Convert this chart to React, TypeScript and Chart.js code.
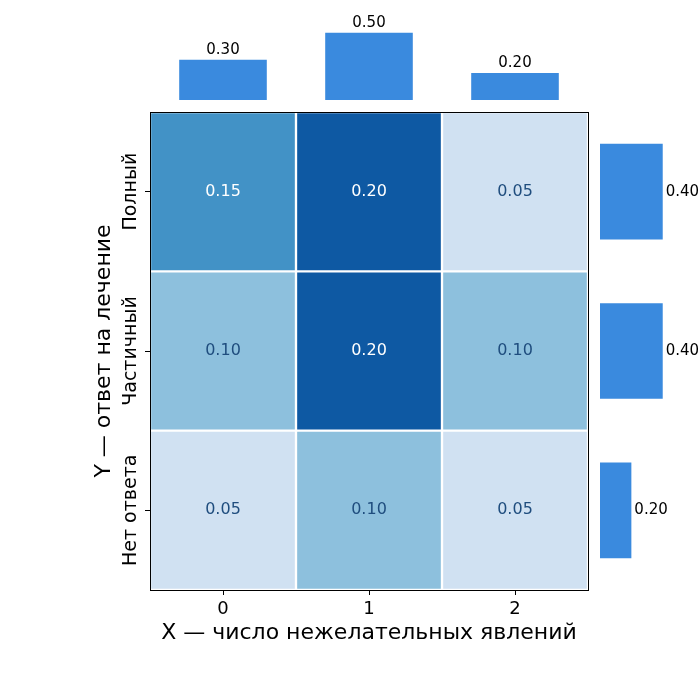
import { useEffect, useRef } from 'react';
import { Chart, registerables } from 'chart.js';
import type { Plugin } from 'chart.js';

Chart.register(...registerables);

// categories
const xLabels = ['0', '1', '2'];
const yLabels = ['Полный', 'Частичный', 'Нет ответа']; // top to bottom

// joint probabilities, rows top to bottom
const rowFull = [0.15, 0.2, 0.05];
const rowPartial = [0.1, 0.2, 0.1];
const rowNone = [0.05, 0.1, 0.05];
const jointRows = [rowFull, rowPartial, rowNone];

// marginals
const marginalX = [0.3, 0.5, 0.2];
const marginalY = [0.4, 0.4, 0.2]; // top to bottom

const FONT = 'DejaVu Sans';
const BAR_COLOR = '#3a8ade';

// Blues-like colour map for cells
const cellColor = (v: number) => {
  if (v >= 0.2) return '#0e59a3';
  if (v >= 0.15) return '#4292c6';
  if (v >= 0.1) return '#8dc0dd';
  return '#d0e1f2';
};
const textColor = (v: number) => (v >= 0.15 ? '#ffffff' : '#1f4d7e');

const heatPlugin: Plugin = {
  id: 'heatDecor',
  afterDatasetsDraw(chart) {
    const { ctx, chartArea, scales } = chart;
    ctx.save();
    // cell annotations
    chart.data.datasets.forEach((ds, di) => {
      const meta = chart.getDatasetMeta(di);
      meta.data.forEach((el, i) => {
        const v = jointRows[di][i];
        const { x, y } = el.getCenterPoint();
        ctx.fillStyle = textColor(v);
        ctx.font = `16px ${FONT}`;
        ctx.textAlign = 'center';
        ctx.textBaseline = 'middle';
        ctx.fillText(v.toFixed(2), x, y);
      });
    });
    // frame
    ctx.strokeStyle = '#000';
    ctx.lineWidth = 1;
    ctx.strokeRect(
      Math.round(chartArea.left) + 0.5,
      Math.round(chartArea.top) + 0.5,
      Math.round(chartArea.right - chartArea.left),
      Math.round(chartArea.bottom - chartArea.top)
    );
    // rotated y tick labels
    const yScale = scales.y;
    ctx.fillStyle = '#000';
    ctx.font = `19px ${FONT}`;
    yLabels.forEach((lab, i) => {
      const py = yScale.getPixelForValue(yLabels.length - 1 - i);
      ctx.save();
      ctx.translate(chartArea.left - 19, py);
      ctx.rotate(-Math.PI / 2);
      ctx.textAlign = 'center';
      ctx.textBaseline = 'middle';
      ctx.fillText(lab, 0, 0);
      ctx.restore();
    });
    ctx.restore();
  },
};

const topLabelPlugin: Plugin = {
  id: 'topLabels',
  afterDatasetsDraw(chart) {
    const { ctx } = chart;
    const meta = chart.getDatasetMeta(0);
    ctx.save();
    ctx.fillStyle = '#000';
    ctx.font = `15px ${FONT}`;
    ctx.textAlign = 'center';
    ctx.textBaseline = 'bottom';
    meta.data.forEach((el, i) => {
      ctx.fillText(marginalX[i].toFixed(2), el.x, el.y - 2);
    });
    ctx.restore();
  },
};

const rightLabelPlugin: Plugin = {
  id: 'rightLabels',
  afterDatasetsDraw(chart) {
    const { ctx } = chart;
    const meta = chart.getDatasetMeta(0);
    ctx.save();
    ctx.fillStyle = '#000';
    ctx.font = `15px ${FONT}`;
    ctx.textAlign = 'left';
    ctx.textBaseline = 'middle';
    meta.data.forEach((el, i) => {
      ctx.fillText(marginalY[i].toFixed(2), el.x + 3, el.y);
    });
    ctx.restore();
  },
};

const App = () => {
  const heatRef = useRef<HTMLCanvasElement | null>(null);
  const topRef = useRef<HTMLCanvasElement | null>(null);
  const rightRef = useRef<HTMLCanvasElement | null>(null);

  useEffect(() => {
    if (!heatRef.current || !topRef.current || !rightRef.current) return;

    const heat = new Chart(heatRef.current, {
      type: 'bar',
      data: {
        labels: xLabels,
        datasets: jointRows.map((row, r) => {
          const yv = jointRows.length - 1 - r;
          return {
            data: row.map(() => [yv - 0.5, yv + 0.5] as [number, number]),
            backgroundColor: row.map(cellColor),
            borderColor: '#ffffff',
            borderWidth: 1.5,
            borderSkipped: false,
            grouped: false,
            barPercentage: 1,
            categoryPercentage: 1,
          };
        }),
      },
      options: {
        responsive: false,
        animation: false,
        devicePixelRatio: 1,
        layout: { padding: { top: 112, right: 112, left: 0, bottom: 0 } },
        plugins: { legend: { display: false }, tooltip: { enabled: false } },
        scales: {
          x: {
            type: 'category',
            offset: true,
            grid: { offset: false, drawOnChartArea: false, tickLength: 5, color: '#000' },
            border: { display: false },
            ticks: { color: '#000', font: { family: FONT, size: 18 }, padding: 4 },
            title: {
              display: true,
              text: 'X — число нежелательных явлений',
              color: '#000',
              font: { family: FONT, size: 22 },
              padding: { top: 0, bottom: 54 },
            },
            afterFit: (s) => {
              s.height = 110;
            },
          },
          y: {
            type: 'linear',
            min: -0.5,
            max: 2.5,
            grid: { drawOnChartArea: false, tickLength: 5, color: '#000' },
            border: { display: false },
            ticks: { display: false },
            afterBuildTicks: (s) => {
              s.ticks = [{ value: 0 }, { value: 1 }, { value: 2 }];
            },
            title: {
              display: true,
              text: 'Y — ответ на лечение',
              color: '#000',
              font: { family: FONT, size: 22 },
              padding: { top: 91, bottom: 0 },
            },
            afterFit: (s) => {
              s.width = 150;
            },
          },
        },
      },
      plugins: [heatPlugin],
    });

    const top = new Chart(topRef.current, {
      type: 'bar',
      data: {
        labels: xLabels,
        datasets: [
          {
            data: marginalX,
            backgroundColor: BAR_COLOR,
            barPercentage: 0.6,
            categoryPercentage: 1,
          },
        ],
      },
      options: {
        responsive: false,
        animation: false,
        devicePixelRatio: 1,
        layout: { padding: { top: 26, left: 0, right: 0, bottom: 0 } },
        plugins: { legend: { display: false }, tooltip: { enabled: false } },
        scales: {
          x: { display: false },
          y: { display: false, min: 0, max: 0.55 },
        },
      },
      plugins: [topLabelPlugin],
    });

    const right = new Chart(rightRef.current, {
      type: 'bar',
      data: {
        labels: yLabels,
        datasets: [
          {
            data: marginalY,
            backgroundColor: BAR_COLOR,
            barPercentage: 0.6,
            categoryPercentage: 1,
          },
        ],
      },
      options: {
        indexAxis: 'y',
        responsive: false,
        animation: false,
        devicePixelRatio: 1,
        layout: { padding: { top: 0, left: 0, right: 31, bottom: 0 } },
        plugins: { legend: { display: false }, tooltip: { enabled: false } },
        scales: {
          x: { display: false, min: 0, max: 0.44 },
          y: { display: false },
        },
      },
      plugins: [rightLabelPlugin],
    });

    return () => {
      heat.destroy();
      top.destroy();
      right.destroy();
    };
  }, []);

  return (
    <div style={{ position: 'absolute', left: 0, top: 0, width: 700, height: 700, background: '#fff' }}>
      <canvas ref={heatRef} width={700} height={700} style={{ position: 'absolute', left: 0, top: 0 }} />
      <canvas ref={topRef} width={438} height={100} style={{ position: 'absolute', left: 150, top: 0 }} />
      <canvas ref={rightRef} width={100} height={478} style={{ position: 'absolute', left: 600, top: 112 }} />
    </div>
  );
};

export default App;
